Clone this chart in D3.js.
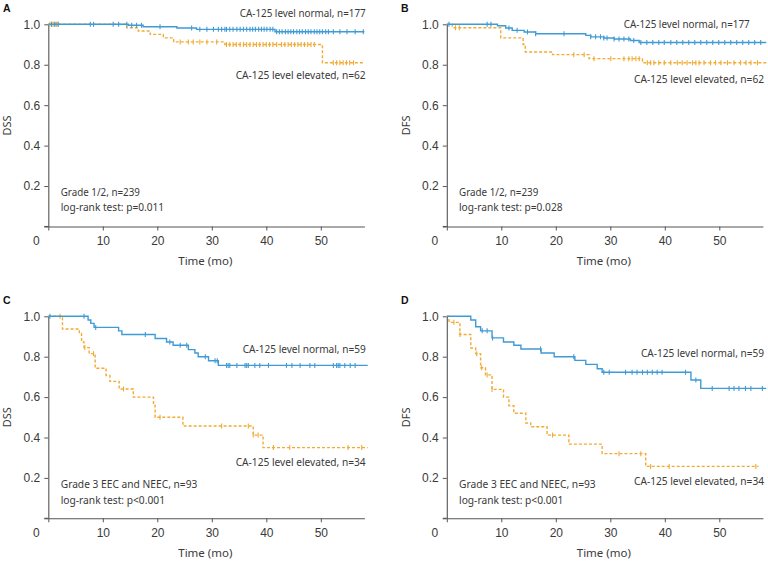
<!DOCTYPE html>
<html>
<head>
<meta charset="utf-8">
<script src="https://cdn.jsdelivr.net/npm/d3@7"></script>
<style>
  html, body { margin: 0; padding: 0; background: #fff; }
  svg { display: block; }
</style>
</head>
<body>
<svg id="chart" width="768" height="561"></svg>
<script>
// ---------- DATA ----------
const panelLetters = ["A", "B", "C", "D"];
const yAxisLabels = ["DSS", "DFS", "DSS", "DFS"];
const xTickValues = [0, 10, 20, 30, 40, 50];
const yTickValues = [0, 0.2, 0.4, 0.6, 0.8, 1.0];
const xLabel = "Time (mo)";
const normalLabels = ["CA-125 level normal, n=177", "CA-125 level normal, n=177", "CA-125 level normal, n=59", "CA-125 level normal, n=59"];
const elevatedLabels = ["CA-125 level elevated, n=62", "CA-125 level elevated, n=62", "CA-125 level elevated, n=34", "CA-125 level elevated, n=34"];
const cohortLabels = ["Grade 1/2, n=239", "Grade 1/2, n=239", "Grade 3 EEC and NEEC, n=93", "Grade 3 EEC and NEEC, n=93"];
const pLabels = ["log-rank test: p=0.011", "log-rank test: p=0.028", "log-rank test: p<0.001", "log-rank test: p<0.001"];

// Panel A (DSS, grade 1/2)
const aNormT = [0, 14.7, 17.4, 23.6, 27.2, 41.6];
const aNormS = [1, 0.995, 0.988, 0.982, 0.975, 0.963];
const aNormEnd = 58;
const aNormCens = [0.6, 1.2, 1.8, 7.7, 8.3, 11.9, 12.9, 14.4, 15.3, 16.2, 17.1, 20.5, 26.3, 27.8, 29.1, 30.3, 31.2, 31.8, 32.4,
  32.7, 33.3, 33.9, 34.6, 35.2, 35.8, 36.4, 37.0, 37.5, 38.0, 38.6, 39.1, 39.6, 40.1, 40.7, 41.2, 41.9, 42.4, 42.9, 43.5, 44.0,
  44.5, 45.0, 45.6, 46.1, 46.6, 47.2, 47.7, 48.2, 48.8, 49.3, 49.8, 50.3, 50.9, 51.4, 52.3, 53.5, 54.8, 56.3, 57.8];
const aElevT = [0, 14.4, 16.5, 18.7, 21.1, 23.0, 32.4, 50.3];
const aElevS = [1, 0.983, 0.967, 0.95, 0.933, 0.913, 0.9, 0.81];
const aElevEnd = 58;
const aElevCens = [0.3, 0.6, 0.9, 1.2, 1.5, 1.8, 24.2, 25.7, 26.6, 27.8, 29.1, 30.9, 32.7, 33.3, 33.9, 34.5, 35.2, 35.8, 36.4,
  37.0, 37.6, 38.2, 38.8, 39.4, 40.0, 40.6, 41.2, 41.9, 42.8, 43.4, 44.0, 44.6, 45.2, 45.8, 46.4, 47.0, 47.6, 48.2, 48.8,
  52.3, 52.9, 53.5, 54.1, 54.7, 55.3, 56.0];

// Panel B (DFS, grade 1/2)
const bNormT = [0, 9.3, 10.8, 12.0, 14.2, 16.3, 25.5, 26.4, 28.8, 30.7, 33.7, 35.3];
const bNormS = [1, 0.993, 0.982, 0.97, 0.962, 0.953, 0.945, 0.938, 0.932, 0.927, 0.92, 0.91];
const bNormEnd = 58.6;
const bNormCens = [0.4, 7.4, 8.1, 11.4, 12.9, 14.8, 16.3, 21.5, 26.4, 27.3, 28.2, 28.8, 29.4, 30.7, 31.6, 32.5, 33.4, 34.3,
  35.6, 36.7, 37.8, 38.9, 39.9, 41.1, 42.2, 43.3, 44.4, 45.5, 46.6, 47.7, 48.8, 49.9, 51.0, 52.1, 53.2, 54.3, 55.4, 56.5, 57.6];
const bElevT = [0, 1.0, 9.9, 14.0, 14.4, 19.4, 26.1, 35.9];
const bElevS = [1, 0.983, 0.933, 0.9, 0.863, 0.85, 0.83, 0.81];
const bElevEnd = 58.6;
const bElevCens = [1.6, 2.3, 23.3, 25.2, 27.0, 30.1, 32.5, 33.4, 34.0, 34.7, 35.3, 36.8, 37.4, 38.0, 38.9, 39.9, 41.1, 42.3,
  43.2, 44.1, 45.1, 45.7, 46.3, 47.2, 48.4, 49.3, 50.3, 51.5, 52.7, 53.9, 54.9, 55.8, 57.0];

// Panel C (DSS, grade 3)
const cNormT = [0, 7.3, 7.8, 8.4, 12.9, 13.5, 19.6, 21.7, 22.9, 25.7, 26.9, 27.5, 29.4, 31.2];
const cNormS = [1, 0.982, 0.965, 0.945, 0.928, 0.91, 0.89, 0.873, 0.857, 0.835, 0.818, 0.8, 0.78, 0.757];
const cNormEnd = 58.6;
const cNormCens = [0.3, 6.55, 8.7, 17.8, 22.3, 24.2, 25.4, 28.8, 30.6, 31.0, 32.7, 33.0, 33.3, 34.6, 36.1, 36.4, 36.7, 37.9,
  38.8, 40.4, 43.7, 44.7, 46.2, 48.0, 48.9, 52.3, 52.9, 53.2, 53.5, 54.4, 55.4, 56.3];
const cElevT = [0, 2.6, 5.7, 6.1, 6.55, 7.5, 8.6, 10.6, 11.3, 13.0, 15.6, 19.3, 19.6, 24.7, 37.6, 39.4];
const cElevS = [1, 0.937, 0.915, 0.873, 0.845, 0.815, 0.743, 0.707, 0.678, 0.64, 0.6, 0.565, 0.5, 0.457, 0.412, 0.35];
const cElevEnd = 58.6;
const cElevCens = [2.15, 6.7, 8.3, 13.8, 20.5, 31.8, 36.7, 37.6, 38.5, 41.3, 44.3, 55.0, 57.5];

// Panel D (DFS, grade 3)
const dNormT = [0, 4.4, 5.3, 6.2, 8.3, 10.4, 12.3, 13.6, 17.3, 19.7, 23.5, 25.5, 27.6, 28.5, 44.8, 46.6];
const dNormS = [1, 0.982, 0.948, 0.928, 0.893, 0.873, 0.857, 0.838, 0.818, 0.8, 0.782, 0.762, 0.74, 0.723, 0.685, 0.643];
const dNormEnd = 58.6;
const dNormCens = [6.5, 7.4, 8.4, 17.2, 23.3, 28.8, 29.8, 32.8, 34.0, 34.9, 35.9, 36.8, 37.7, 38.6, 39.5, 43.8, 45.7, 48.7,
  51.8, 52.7, 53.6, 54.8, 55.8, 57.9];
const dElevT = [0, 0.4, 2.4, 4.4, 5.3, 6.2, 7.1, 8.3, 10.4, 11.4, 12.3, 14.5, 15.4, 18.4, 22.4, 28.5, 36.5];
const dElevS = [1, 0.97, 0.91, 0.843, 0.815, 0.745, 0.71, 0.638, 0.6, 0.557, 0.52, 0.472, 0.453, 0.412, 0.367, 0.32, 0.257];
const dElevEnd = 57.2;
const dElevCens = [1.3, 2.4, 5.5, 6.4, 7.4, 8.3, 19.4, 31.6, 35.6, 37.4, 40.8, 56.7];

// ---------- LAYOUT / STYLE ----------
const BLUE = "#3f9bd5";
const ORANGE = "#f2aa33";
const AXIS = "#555";
const TEXT = "#3a3a3a";

const panels = [
  { nT: aNormT, nS: aNormS, nE: aNormEnd, nC: aNormCens, eT: aElevT, eS: aElevS, eE: aElevEnd, eC: aElevCens,
    x0: 48.3, yTop: 24.3, yBot: 226.5, letterX: 3, letterY: 12,
    nPos: [365.7, 17.3, 126], ePos: [365.7, 78.7, 130], cPos: [60.7, 195.7] },
  { nT: bNormT, nS: bNormS, nE: bNormEnd, nC: bNormCens, eT: bElevT, eS: bElevS, eE: bElevEnd, eC: bElevCens,
    x0: 446.8, yTop: 24.3, yBot: 226.5, letterX: 401, letterY: 12,
    nPos: [749.7, 28.3, 126], ePos: [764, 82.7, 130], cPos: [459, 195.7] },
  { nT: cNormT, nS: cNormS, nE: cNormEnd, nC: cNormCens, eT: cElevT, eS: cElevS, eE: cElevEnd, eC: cElevCens,
    x0: 48.3, yTop: 316.3, yBot: 518.3, letterX: 3, letterY: 304,
    nPos: [365.7, 353.3, 123], ePos: [365.7, 465.7, 130], cPos: [60.7, 488.3] },
  { nT: dNormT, nS: dNormS, nE: dNormEnd, nC: dNormCens, eT: dElevT, eS: dElevS, eE: dElevEnd, eC: dElevCens,
    x0: 446.8, yTop: 316.3, yBot: 518.3, letterX: 401, letterY: 304,
    nPos: [764, 357.3, 123], ePos: [764, 485, 130], cPos: [459, 488.3] }
];
const pxPerMonth = 5.45;
const xMax = 58;

const svg = d3.select("#chart");
const tickFont = "'Liberation Sans', Arial, sans-serif";
const noteFont = "'Noto Sans', 'Open Sans', sans-serif";

panels.forEach((p, i) => {
  const x = d3.scaleLinear().domain([0, xMax]).range([p.x0, p.x0 + xMax * pxPerMonth]);
  const y = d3.scaleLinear().domain([0, 1]).range([p.yBot, p.yTop]);
  const g = svg.append("g");

  // Axes
  const xAxis = d3.axisBottom(x).tickValues(xTickValues).tickSize(4).tickSizeOuter(0)
    .tickFormat(d => d === 0 ? "" : d);
  const gx = g.append("g").attr("transform", `translate(0,${p.yBot})`).call(xAxis);
  const yAxis = d3.axisLeft(y).tickValues(yTickValues).tickSize(4).tickSizeOuter(0)
    .tickFormat(d => d === 0 ? "" : d3.format(".1f")(d));
  const gy = g.append("g").attr("transform", `translate(${p.x0},0)`).call(yAxis);
  [gx, gy].forEach(ax => {
    ax.select(".domain").attr("stroke", AXIS).attr("stroke-width", 1.1);
    ax.selectAll(".tick line").attr("stroke", AXIS).attr("stroke-width", 1);
    ax.selectAll(".tick text").attr("fill", TEXT).style("font-family", tickFont).style("font-size", "12px");
  });
  gx.selectAll(".tick text").attr("dy", "1.15em").attr("y", 5);
  gy.selectAll(".tick text").attr("x", -8);
  // x-axis line extends left to the 0.0 tick
  g.append("line").attr("x1", p.x0 - 4).attr("x2", p.x0).attr("y1", p.yBot).attr("y2", p.yBot)
    .attr("stroke", AXIS).attr("stroke-width", 1.1);
  // Origin "0" label
  g.append("text").attr("x", p.x0 - 12).attr("y", p.yBot + 18.5).attr("text-anchor", "middle")
    .attr("fill", TEXT).style("font-family", tickFont).style("font-size", "12px").text("0");

  // Axis titles
  g.append("text").attr("x", x(xMax / 2) - 1).attr("y", p.yBot + 38.5).attr("text-anchor", "middle")
    .attr("fill", TEXT).style("font-family", noteFont).style("font-size", "11.5px").text(xLabel);
  const ylx = p.x0 - 37.3, yly = (p.yTop + p.yBot) / 2;
  g.append("text").attr("transform", `translate(${ylx},${yly}) rotate(-90)`).attr("text-anchor", "middle")
    .attr("fill", TEXT).style("font-family", noteFont).style("font-size", "11px").text(yAxisLabels[i]);

  // Panel letter
  g.append("text").attr("x", p.letterX).attr("y", p.letterY).attr("fill", "#111")
    .style("font-family", tickFont).style("font-size", "10.5px").style("font-weight", "bold").text(panelLetters[i]);

  // Survival curves
  const line = d3.line().x(d => x(d[0])).y(d => y(d[1])).curve(d3.curveStepAfter);
  function curve(T, S, end, cens, color, dash) {
    const pts = T.map((t, k) => [t, S[k]]);
    pts.push([end, S[S.length - 1]]);
    g.append("path").datum(pts).attr("d", line).attr("fill", "none")
      .attr("stroke", color).attr("stroke-width", 1.4).attr("stroke-dasharray", dash);
    const survAt = t => { let s = S[0]; T.forEach((tt, k) => { if (tt <= t) s = S[k]; }); return s; };
    g.selectAll(null).data(cens).enter().append("line")
      .attr("x1", d => x(d)).attr("x2", d => x(d))
      .attr("y1", d => y(survAt(d)) - 2.5).attr("y2", d => y(survAt(d)) + 2.5)
      .attr("stroke", color).attr("stroke-width", 1.1);
  }
  curve(p.eT, p.eS, p.eE, p.eC, ORANGE, "3,2");
  curve(p.nT, p.nS, p.nE, p.nC, BLUE, null);

  // Annotations
  const note = (tx, ty, txt, anchor, len) => {
    const t = g.append("text").attr("x", tx).attr("y", ty).attr("text-anchor", anchor)
      .attr("fill", TEXT).style("font-family", noteFont).style("font-size", "10px").text(txt);
    if (len) t.attr("textLength", len).attr("lengthAdjust", "spacingAndGlyphs");
    return t;
  };
  note(p.nPos[0], p.nPos[1], normalLabels[i], "end", p.nPos[2]);
  note(p.ePos[0], p.ePos[1], elevatedLabels[i], "end", p.ePos[2]);
  const cLen = i < 2 ? 79.3 : 136.7;
  note(p.cPos[0], p.cPos[1], cohortLabels[i], "start", cLen);
  note(p.cPos[0], p.cPos[1] + 15.3, pLabels[i], "start", i < 2 ? 103.5 : 104.3);
});
</script>
</body>
</html>
